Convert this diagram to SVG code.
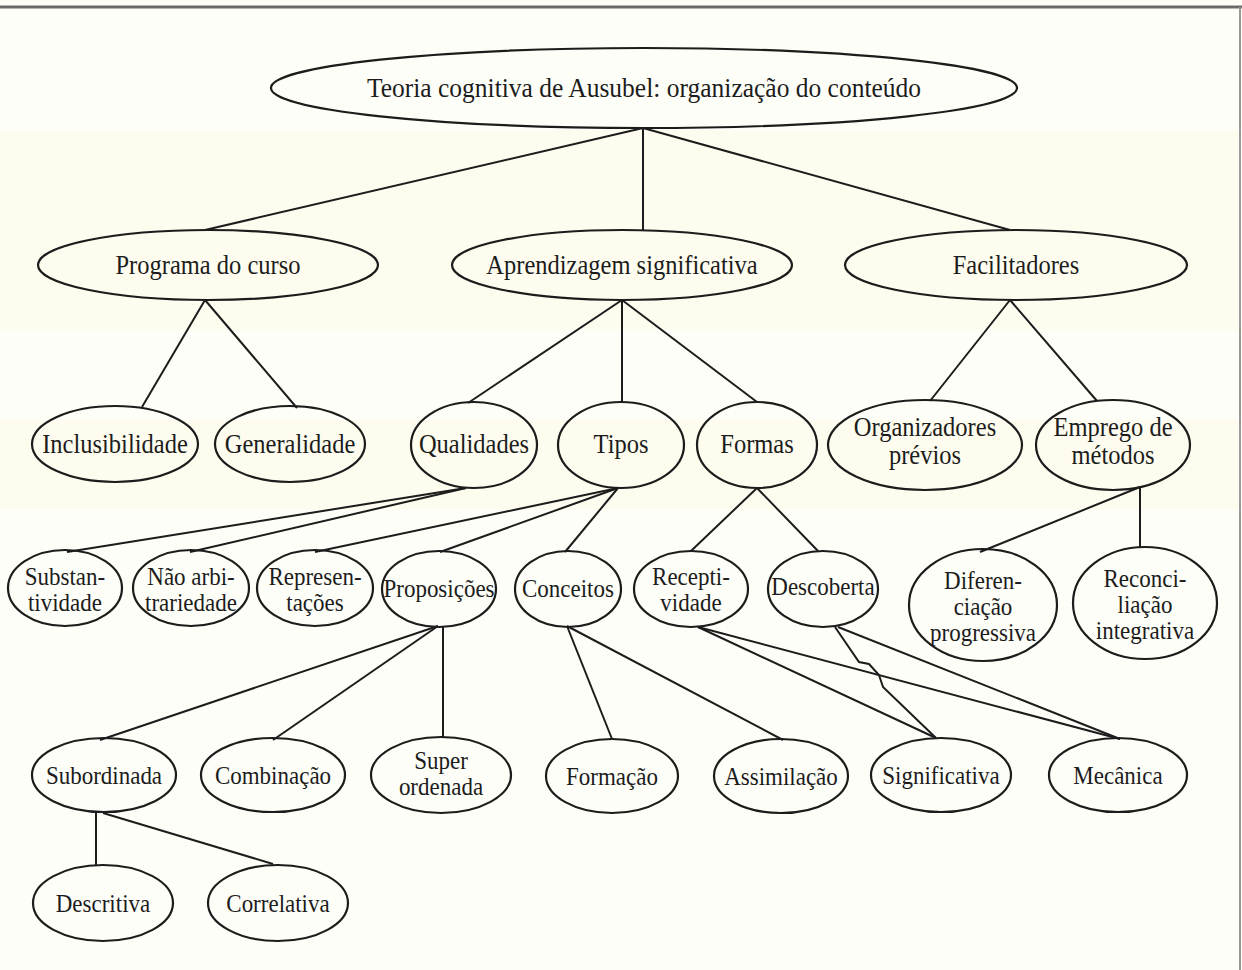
<svg xmlns="http://www.w3.org/2000/svg" width="1242" height="970" viewBox="0 0 1242 970">
<style>
.bg{fill:#fefef8}
.band{fill:#fcfae8;opacity:0.55}
.node ellipse{fill:none;stroke:#1c1c1c;stroke-width:2.2}
.node text{font-family:"Liberation Serif","Times New Roman",serif;font-size:23px;fill:#1c1c1c;text-anchor:middle;transform-box:fill-box;transform-origin:center;transform:scaleY(1.1)}
.big text{font-size:24.5px}
#connectors line,#connectors path{stroke:#1c1c1c;stroke-width:2;fill:none}
.frame{stroke:#6a6a6a;stroke-width:3}
</style>
<rect class="bg" x="0" y="0" width="1242" height="970"/>
<rect class="band" x="0" y="130" width="1242" height="200"/>
<rect class="band" x="0" y="420" width="1242" height="90"/>
<line class="frame" x1="0" y1="7" x2="1242" y2="7"/>
<line x1="1240" y1="7" x2="1240" y2="970" stroke="#9a9a9a" stroke-width="2"/>

<g id="connectors">
<line x1="643" y1="128" x2="205" y2="230"/>
<line x1="643" y1="128" x2="643" y2="230"/>
<line x1="643" y1="128" x2="1010" y2="230"/>
<line x1="205" y1="300" x2="142" y2="407"/>
<line x1="205" y1="300" x2="297" y2="408"/>
<line x1="622" y1="300" x2="468" y2="403"/>
<line x1="622" y1="300" x2="622" y2="402"/>
<line x1="622" y1="300" x2="757" y2="402"/>
<line x1="1010" y1="300" x2="930" y2="401"/>
<line x1="1010" y1="300" x2="1097" y2="401"/>
<line x1="466" y1="488" x2="67" y2="552"/>
<line x1="466" y1="488" x2="190" y2="552"/>
<line x1="618" y1="488" x2="315" y2="552"/>
<line x1="618" y1="488" x2="440" y2="552"/>
<line x1="618" y1="488" x2="565" y2="552"/>
<line x1="757" y1="488" x2="691" y2="551"/>
<line x1="757" y1="488" x2="818" y2="551"/>
<line x1="1140" y1="487" x2="980" y2="552"/>
<line x1="1140" y1="487" x2="1140" y2="548"/>
<line x1="438" y1="626" x2="100" y2="740"/>
<line x1="438" y1="626" x2="273" y2="740"/>
<line x1="443" y1="626" x2="443" y2="738"/>
<line x1="567" y1="626" x2="612" y2="739"/>
<line x1="567" y1="626" x2="783" y2="740"/>
<line x1="698" y1="627" x2="936" y2="738"/>
<line x1="698" y1="627" x2="1120" y2="739"/>
<path d="M835 627 L859 662 L869 664 L879 675 L883 687 L936 738"/>
<line x1="838" y1="627" x2="1120" y2="739"/>
<line x1="96" y1="813" x2="96" y2="865"/>
<line x1="103" y1="813" x2="273" y2="864"/>
</g>

<g id="teoria" class="node big"><ellipse cx="644" cy="88" rx="373" ry="40"/><text x="644" y="96" style="font-size:25.5px">Teoria cognitiva de Ausubel: organização do conteúdo</text></g>

<g id="programa" class="node big"><ellipse cx="208" cy="265" rx="170" ry="35"/><text x="208" y="273">Programa do curso</text></g>
<g id="aprendizagem" class="node big"><ellipse cx="622" cy="265" rx="170" ry="35"/><text x="622" y="273">Aprendizagem significativa</text></g>
<g id="facilitadores" class="node big"><ellipse cx="1016" cy="265" rx="171" ry="35"/><text x="1016" y="273">Facilitadores</text></g>

<g id="inclusibilidade" class="node big"><ellipse cx="115" cy="444" rx="83" ry="38"/><text x="115" y="452">Inclusibilidade</text></g>
<g id="generalidade" class="node big"><ellipse cx="290" cy="444" rx="75" ry="38"/><text x="290" y="452">Generalidade</text></g>
<g id="qualidades" class="node big"><ellipse cx="474" cy="445" rx="63" ry="43"/><text x="474" y="452">Qualidades</text></g>
<g id="tipos" class="node big"><ellipse cx="621" cy="445" rx="63" ry="43"/><text x="621" y="452">Tipos</text></g>
<g id="formas" class="node big"><ellipse cx="757" cy="445" rx="60" ry="43"/><text x="757" y="452">Formas</text></g>
<g id="organizadores" class="node big"><ellipse cx="925" cy="445" rx="97" ry="45"/><text x="925" y="435">Organizadores</text><text x="925" y="463">prévios</text></g>
<g id="emprego" class="node big"><ellipse cx="1113" cy="445" rx="77" ry="45"/><text x="1113" y="435">Emprego de</text><text x="1113" y="463">métodos</text></g>

<g id="substantividade" class="node"><ellipse cx="65" cy="588" rx="57" ry="38"/><text x="65" y="584">Substan-</text><text x="65" y="610">tividade</text></g>
<g id="naoarbitrariedade" class="node"><ellipse cx="191" cy="588" rx="58" ry="38"/><text x="191" y="584">Não arbi-</text><text x="191" y="610">trariedade</text></g>
<g id="representacoes" class="node"><ellipse cx="315" cy="588" rx="58" ry="38"/><text x="315" y="584">Represen-</text><text x="315" y="610">tações</text></g>
<g id="proposicoes" class="node"><ellipse cx="439" cy="589" rx="57" ry="38"/><text x="439" y="596">Proposições</text></g>
<g id="conceitos" class="node"><ellipse cx="568" cy="589" rx="53" ry="38"/><text x="568" y="596">Conceitos</text></g>
<g id="receptividade" class="node"><ellipse cx="691" cy="589" rx="57" ry="38"/><text x="691" y="584">Recepti-</text><text x="691" y="610">vidade</text></g>
<g id="descoberta" class="node"><ellipse cx="823" cy="589" rx="55" ry="38"/><text x="823" y="594">Descoberta</text></g>
<g id="diferenciacao" class="node"><ellipse cx="983" cy="605" rx="74" ry="56"/><text x="983" y="588">Diferen-</text><text x="983" y="614">ciação</text><text x="983" y="640">progressiva</text></g>
<g id="reconciliacao" class="node"><ellipse cx="1145" cy="603" rx="72" ry="56"/><text x="1145" y="586">Reconci-</text><text x="1145" y="612">liação</text><text x="1145" y="638">integrativa</text></g>

<g id="subordinada" class="node"><ellipse cx="104" cy="775" rx="72" ry="37"/><text x="104" y="783">Subordinada</text></g>
<g id="combinacao" class="node"><ellipse cx="273" cy="775" rx="72" ry="37"/><text x="273" y="783">Combinação</text></g>
<g id="superordenada" class="node"><ellipse cx="441" cy="775" rx="70" ry="38"/><text x="441" y="768">Super</text><text x="441" y="794">ordenada</text></g>
<g id="formacao" class="node"><ellipse cx="612" cy="776" rx="66" ry="37"/><text x="612" y="784">Formação</text></g>
<g id="assimilacao" class="node"><ellipse cx="781" cy="776" rx="67" ry="37"/><text x="781" y="784">Assimilação</text></g>
<g id="significativa" class="node"><ellipse cx="941" cy="775" rx="70" ry="37"/><text x="941" y="783">Significativa</text></g>
<g id="mecanica" class="node"><ellipse cx="1118" cy="775" rx="69" ry="37"/><text x="1118" y="783">Mecânica</text></g>

<g id="descritiva" class="node"><ellipse cx="103" cy="903" rx="70" ry="38"/><text x="103" y="911">Descritiva</text></g>
<g id="correlativa" class="node"><ellipse cx="278" cy="903" rx="70" ry="38"/><text x="278" y="911">Correlativa</text></g>
</svg>
